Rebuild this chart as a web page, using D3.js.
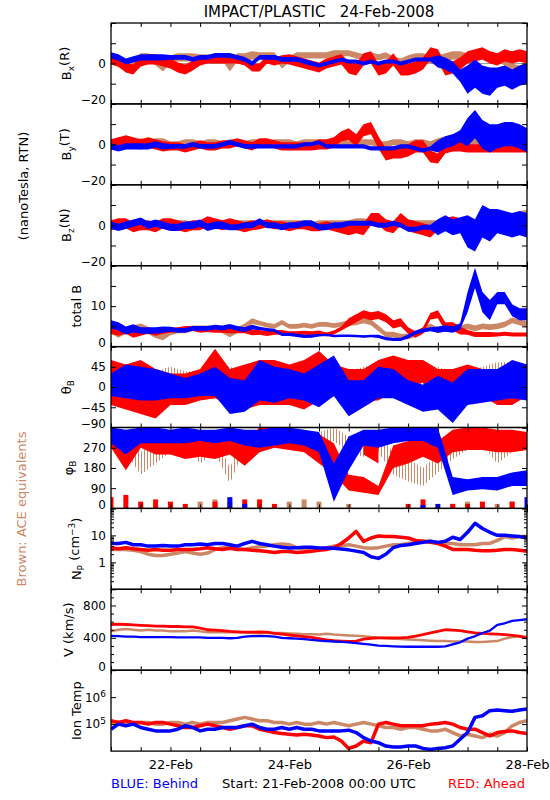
<!DOCTYPE html>
<html><head><meta charset="utf-8">
<script src="https://cdn.jsdelivr.net/npm/d3@7"></script>
<style>
html,body{margin:0;padding:0;background:#fff;}
svg{display:block;font-family:"DejaVu Sans",sans-serif;}
</style></head><body>
<svg id="c" width="550" height="800"></svg>
<script>
// ---------- time grids (hours since 21-Feb-2008 00:00 UTC) ----------
const hours3 = d3.range(0, 169, 3);   // 57 samples
const hours6 = d3.range(0, 169, 6);   // 29 samples
const xTickLabels = ["22-Feb", "24-Feb", "26-Feb", "28-Feb"];

// ---------- Bx (R) ----------
const bxBrown = [2,0,-2,0,3,3,1,-2,2,3,3,3,3,3,3,3,-2,3,3,4,4,4,4, -1,2,4,4,4,4,4,5,5,5,4,3,4,3,4,2,1,2,3,3,2,2,3,4,4,3,4,4,4,3,1,-2,-3,-2];
const bxRed   = [2,1,-2,-3,1,2,2,1,0,-2,-3,-1,1,2,2,2,2,2,1,-2,-2,2,1, 2,2,1,0,-1,-2,0,1,2,-2,-3,2,3,-3,-2,2,-3,-3,-2,0,5,4,-3,-2,0,3,4,5,3,2,4,3,4,3];
const bxBlue  = [4,3,1,2,3,3,3,3,3,3,3,2,3,3,4,4,4,3,2,0,3,3,3, 2,2,2,1,0,-1,0,1,2,1,1,0,1,0,1,1,0,1,2,2,2,1,0,-2,-6,-8,-5,-8,-9,-7,-6,-8,-6,-5];
const bxBrownAmp = [2,2,2,1.5,2,1.5,1.5,1.5,1.5,1.5,2,2,2,2,2.5];
const bxRedAmp   = [2.5,2.5,2.5,2,2,2,2.5,2.5,3,3,3,3,3,3,3];
const bxBlueAmp  = [1.5,1.5,1.2,1.2,1.2,1.2,1.2,1,1,1,1,3,7,5,5];

// ---------- By (T) ----------
const byBrown = [-1,0,1,0,1,0,1,1,0,0,1,1,0,1,1,0,1,1,0,1,1,0,1, 1,1,0,1,1,1,0,1,1,0,1,1,1,0,0,1,1,0,1,1,0,1,2,3,3,2,1,1,0,0,1,1,0,0];
const byRed   = [0,1,2,1,0,1,0,-1,-1,-1,-2,-1,0,-1,-1,0,0,1,0,-1,1,1,0, -1,-1,-1,-1,-1,0,0,1,4,5,2,7,8,1,-5,-4,-4,-3,-1,-1,-6,-7,-2,-1,-1,-2,-2,-2,-2,-2,-2,-2,-2,-2];
const byBlue  = [-1,-2,-1,-1,-1,-1,0,-1,-1,-1,-1,0,-1,-1,-1,0,1,0,-1,-1,-1,-1,-1, -1,-1,-1,0,0,1,-1,-1,-1,-1,-1,-1,-2,-2,-2,-2,-1,-1,-2,-3,-2,-1,1,2,4,6,10,5,3,4,5,5,4,2];
const byBrownAmp = [2,2,1.5,1.5,1.5,1.5,1.5,1.5,1.5,1.5,1.5,2,2,2,2];
const byRedAmp   = [2.5,2.5,2,2,2,2,2,2.5,3,3,3,2.5,2,2,2];
const byBlueAmp  = [1.5,1.5,1.2,1.2,1.2,1,1,1,1,1,1,3,7,6,6];

// ---------- Bz (N) ----------
const bzBrown = [0,1,1,0,1,0,1,1,0,1,1,0,1,0,1,1,0,1,1,1,0,1,1, 1,1,1,1,0,1,1,1,1,1,2,2,1,1,1,0,1,1,1,1,1,1,1,1,1,1,1,1,1,1,2,3,5,5];
const bzRed   = [0,1,1,-1,0,0,-1,1,1,0,-1,0,0,2,1,0,1,0,-1,0,0,1,0, 0,-1,0,0,-1,-1,0,-1,-2,-2,-1,-2,3,3,0,-1,3,0,-1,-2,-3,0,1,2,1,0,0,-1,0,0,0,1,0,0];
const bzBlue  = [0,-1,0,1,2,0,1,0,-1,-1,0,0,1,-1,0,0,-1,-1,0,0,2,0,0, -1,0,0,1,1,-1,-1,0,0,1,1,1,1,0,0,1,0,-2,-2,-1,-1,-1,1,-1,0,-3,-5,2,0,2,1,0,1,0];
const bzBrownAmp = [1.5,1.5,1.5,1.5,1.5,1.5,1.5,1.5,1.5,1.5,1.5,1.5,1.5,2,2.5];
const bzRedAmp   = [2.5,2.5,2.5,2.5,2.5,2,2,2,3,3,3,2.5,2,2,2];
const bzBlueAmp  = [1.8,1.8,1.8,1.8,1.5,1.5,1.5,1.5,1.2,1.2,1.2,4,8,6,6];

// ---------- total B ----------
const btBrown = [4,3,4,4.5,4.8,4,3,2.5,3.5,4,4,4.5,4.5,4.5,4.5,4,3,4,5,6.3,5.8,5.3,5, 6,5,5,5.3,5,5.5,5.5,5.2,5.5,5.8,6,6.5,6,4.5,3,3,2.5,2.5,3,4,5,4,4.5,5,4.5,5,4.5,5,4.8,5,5.5,6.5,6,5.5];
const btRed   = [4,3.5,4,3,3.5,4,3.5,4,4,4.2,4.5,4.5,4,4.2,4,4,4,4,4,3.5,3.5,3.2,3.5, 3.5,3.3,3.3,3.4,3.3,3.5,3,3.5,4.5,6,7,8,7.5,7.8,7,5.5,6,4,3,4,7.5,8,5,5,4,3.5,3,3,3,3,3.2,3,3,3];
const btBlue  = [5.5,5,4,4.5,4,4,4,4.2,4.3,4,4,4.5,4.5,4.5,4.8,4.6,5,4.5,4.2,4.8,4.5,4.2,4, 3,3,2.8,2.5,2.6,2.8,2.9,2.6,2.7,2.7,2.6,2.5,2.6,2.5,2,1.8,1.8,2.5,3.5,4,4.3,4.2,4.5,4.2,5,11,17,11,9,12,12,9,8,8];
const btBrownAmp = [0.8,0.9,0.7,0.7,0.7,0.6,0.6,0.6,0.7,0.7,0.7,0.7,0.7,0.7,0.8];
const btRedAmp   = [0.8,0.8,0.6,0.6,0.7,0.6,0.5,0.5,1,1,0.8,1,0.6,0.5,0.5];
const btBlueAmp  = [1,0.8,0.6,0.6,0.6,0.4,0.4,0.3,0.3,0.4,0.5,0.8,2.5,1.5,1.5];

// ---------- theta_B (6-hour ranges) ----------
const thBrownLo = [-20,-30,-20,-30,-20,-20,-30,-20,-20,-30,-20,-20,-30,-20,-30,-20,-30,-20,-20,-20,-30,-20,-20,-30,-20,-20,-20,-20,-20];
const thBrownHi = [50,40,40,35,45,35,35,45,45,35,45,35,45,35,35,35,35,45,50,55,35,35,45,35,35,45,55,55,45];
const thRedLo   = [-40,-50,-60,-70,-40,-40,-30,-25,-40,-50,-40,-40,-40,-50,-30,-20,-40,-30,-30,-10,0,10,-30,-40,-30,-20,-40,-40,-20];
const thRedHi   = [60,50,60,40,30,30,40,85,40,50,60,60,50,60,80,50,40,40,60,70,60,60,40,40,50,40,40,40,40];
const thBlueLo  = [-20,-25,-30,-30,-25,-25,-20,-20,-60,-55,-30,-35,-25,-30,-45,-20,-65,-45,-25,-25,-40,-55,-50,-80,-40,-35,-30,-25,-30];
const thBlueHi  = [30,50,45,40,30,20,30,45,20,15,60,45,40,30,50,70,15,15,45,40,15,5,25,10,40,40,40,60,50];

// ---------- phi_B (6-hour ranges) ----------
const phBrownLo = [270,250,150,200,250,280,200,250,110,270,280,280,300,290,280,300,250,230,250,150,120,100,160,220,260,280,200,250,260];
const phBrownHi = [340,330,250,300,330,340,280,330,180,340,350,350,360,350,340,360,320,300,330,250,220,180,240,300,340,340,300,330,340];
const phRedLo   = [270,170,270,240,240,220,230,220,240,190,250,270,260,250,200,150,80,70,60,180,200,230,200,250,260,260,250,250,260];
const phRedHi   = [340,300,350,350,340,340,320,300,330,300,360,360,340,330,330,290,150,140,100,280,300,320,300,350,360,360,350,350,340];
const phRedAltLo = [null,null,null,null,null,null,null,null,null,null,null,null,null,null,null,null,null,240,200,null,null,null,null,null,null,null,null,null,null];
const phRedAltHi = [null,null,null,null,null,null,null,null,null,null,null,null,null,null,null,null,null,330,330,null,null,null,null,null,null,null,null,null,null];
const phBlueLo  = [290,240,290,290,290,290,300,290,300,280,270,280,290,280,250,30,170,280,270,290,300,300,270,60,80,85,80,100,100];
const phBlueHi  = [360,350,360,360,350,360,350,350,360,350,350,360,360,350,340,200,320,350,350,360,360,360,360,140,130,140,140,160,170];
const phBrownLow = [0,0,0,0,20,0,30,40,30,0,0,0,30,40,30,0,20,0,0,0,0,0,0,20,30,0,20,30,0];
const phRedLow   = [50,60,30,40,30,20,0,30,0,40,40,20,0,0,0,0,0,0,0,0,20,40,0,20,20,30,0,30,0];
const phBlueLow  = [0,0,0,0,0,0,0,0,50,20,0,0,0,0,0,0,0,0,0,0,0,15,20,0,0,0,0,0,50];

// ---------- Np (cm^-3) ----------
const npBrown = [3,3,3,2.8,2.5,2,1.8,1.8,2,2.2,2.5,2.2,2,2.2,3,3.5,3.5,3.2,3,3.5,3.8,4,4.5, 4.8,4.5,3.5,3,2.8,3,3.5,4,4.2,4.5,4,3.5,3.3,3.5,4,4.5,4.5,5,5.5,6,6,5.5,5,5,4.5,4.5,4.5,5,5,6.5,9,8,9,9];
const npRed   = [3.5,3.2,3.5,3.2,3,2.8,3,2.8,2.8,3,3,3,3.2,3.5,3.2,3,3.3,3,3,2.8,2.7,2.5,2.3, 2.5,2.5,2.3,2.4,2.6,2.8,3,3.5,5,8,14,6,8,9.5,9,9,8.5,8,6.5,6,5.5,5,4,3,3,3,2.8,2.7,2.7,2.8,3,3,2.8,2.6];
const npBlue  = [5,5,5.5,4.5,4.5,4,4,4.2,4,4,4.5,4.5,4.8,4.5,5,5,4.5,4,5,6,5,4.5,4, 3.6,3.4,3.5,3.6,3.6,3.4,3.4,3.3,3.1,2.9,2.6,2.3,1.6,1.4,2,3.5,4.2,4.5,5,5.5,6,5.5,6,8.5,7,13,28,18,13,10,10,9.5,9,8];

// ---------- V (km/s) ----------
const vBrown = [480,500,510,500,490,500,490,490,480,480,480,490,480,470,470,470,470,470,465,460,455,460,460, 460,455,450,445,445,440,450,440,435,430,425,420,410,400,395,390,385,380,375,370,365,360,360,355,355,355,350,350,355,360,390,410,420,415];
const vRed   = [565,570,565,560,555,550,545,545,540,540,535,535,520,500,495,490,480,475,470,470,475,470,455, 445,435,425,415,405,390,375,365,360,355,360,385,395,400,400,400,400,405,420,440,460,480,500,495,490,475,460,455,450,445,440,430,420,395];
const vBlue  = [425,420,415,415,410,410,410,410,410,405,405,405,405,400,400,400,395,400,415,420,420,420,415, 400,395,390,385,375,365,360,355,350,345,335,325,315,305,300,295,292,290,290,290,290,290,295,320,345,390,420,460,490,560,580,610,620,630];

// ---------- Ion Temp (K) ----------
const tiBrown = [115000,115000,115000,100000,115000,115000,100000,100000,115000,115000,100000,115000,100000,115000,115000,115000,133000,154000,178000,154000,133000,133000,115000, 115000,100000,115000,100000,100000,115000,100000,115000,100000,86600,100000,115000,100000,86600,75000,75000,65000,75000,75000,65000,56200,56200,65000,48700,36500,42200,36500,31600,42200,36500,48700,86600,115000,133000];
const tiRed   = [133000,115000,133000,115000,115000,100000,115000,115000,100000,86600,75000,75000,86600,100000,86600,75000,65000,75000,86600,86600,65000,56200,48700, 44700,42200,39800,42200,39800,36500,31600,33500,23700,12600,15400,23700,20500,100000,115000,100000,86600,86600,86600,86600,100000,106000,115000,100000,75000,65000,65000,48700,36500,48700,53000,56200,48700,44700];
const tiBlue  = [65000,100000,86600,100000,75000,65000,56200,56200,56200,65000,86600,75000,56200,65000,65000,75000,75000,75000,86600,100000,75000,65000,65000, 75000,65000,75000,65000,65000,56200,56200,56200,56200,59600,48700,31600,23700,20500,15400,14100,14100,15400,15400,12600,11500,12600,13300,15400,27400,48700,178000,205000,316000,335000,316000,299000,335000,365000];

// ---------- layout & style ----------
const BROWN = "#cc8866", RED = "#ff0000", BLUE = "#0000ff";
const X0 = 111, X1 = 527, TOP = 23, PH = 80.9;
const FONT = "DejaVu Sans, sans-serif";
const t0 = Date.UTC(2008, 1, 21);
const T = h => new Date(t0 + h * 3600000);
const x = d3.scaleUtc().domain([T(0), T(168)]).range([X0, X1]);
const dates12 = d3.range(0, 169, 12).map(T);

const svg = d3.select("#c");
svg.append("rect").attr("width", 550).attr("height", 800).attr("fill", "#fff");

// sparse streak texture for the (dotted) ACE brown points in the angle panels
const defs = svg.append("defs");
const pat = defs.append("pattern").attr("id", "stBrown").attr("patternUnits", "userSpaceOnUse")
  .attr("width", 3).attr("height", 6);
pat.append("rect").attr("width", 1).attr("height", 6).attr("fill", BROWN);

svg.append("text").attr("x", 319).attr("y", 17).attr("text-anchor", "middle")
  .attr("font-size", 15).style("white-space", "pre").text("IMPACT/PLASTIC   24-Feb-2008");

function makePanel(i) {
  const g = svg.append("g").attr("transform", `translate(0,${TOP + i * PH})`);
  g.append("clipPath").attr("id", "clip" + i).append("rect")
    .attr("x", X0).attr("y", 0).attr("width", X1 - X0).attr("height", PH);
  const plot = g.append("g").attr("clip-path", `url(#clip${i})`);
  return { g, plot };
}

function axes(g, y, majors, labels, minors, fmt, title) {
  const left = g.append("g").attr("transform", `translate(${X0},0)`)
    .call(d3.axisLeft(y).tickValues(majors).tickSize(-5).tickPadding(5)
      .tickFormat(d => labels.includes(d) ? fmt(d) : ""));
  left.attr("font-size", 12).attr("font-family", FONT);
  left.select(".domain").remove();
  const bottom = y.range()[0];
  left.selectAll(".tick").filter(d => Math.abs(y(d) - bottom) < 1).select("text").attr("y", -4);
  if (minors.length) {
    const lm = g.append("g").attr("transform", `translate(${X0},0)`)
      .call(d3.axisLeft(y).tickValues(minors).tickSize(-3).tickFormat(""));
    lm.select(".domain").remove();
    const rm = g.append("g").attr("transform", `translate(${X1},0)`)
      .call(d3.axisRight(y).tickValues(minors).tickSize(-3).tickFormat(""));
    rm.select(".domain").remove();
  }
  const right = g.append("g").attr("transform", `translate(${X1},0)`)
    .call(d3.axisRight(y).tickValues(majors).tickSize(-5).tickFormat(""));
  right.select(".domain").remove();
  const xb = g.append("g").attr("transform", `translate(0,${PH})`)
    .call(d3.axisBottom(x).tickValues(dates12).tickSize(-4).tickFormat(""));
  xb.select(".domain").remove();
  const xt = g.append("g")
    .call(d3.axisTop(x).tickValues(dates12).tickSize(-4).tickFormat(""));
  xt.select(".domain").remove();
  g.append("rect").attr("x", X0).attr("y", 0).attr("width", X1 - X0).attr("height", PH)
    .attr("fill", "none").attr("stroke", "#000").attr("stroke-width", 1.3);
  const bb = left.node().getBBox();
  const lx = X0 + bb.x - 10;
  const t = g.append("text").attr("transform", `translate(${lx},${PH / 2}) rotate(-90)`)
    .attr("text-anchor", "middle").attr("font-size", 13);
  title.forEach(p => {
    const s = t.append("tspan").text(p.t);
    if (p.sub) s.attr("dy", "0.35em").attr("font-size", 9);
    if (p.sup) s.attr("dy", "-0.5em").attr("font-size", 9);
    if (p.back) s.attr("dy", p.back);
  });
  return left;
}

const ampAt = (amp, h) => amp[Math.min(amp.length - 1, Math.floor(h / 12))];

function bandPanel(i, domain, majors, labels, minors, zero, series, title) {
  const { g, plot } = makePanel(i);
  const y = d3.scaleLinear().domain(domain).range([PH, 0]);
  if (zero) plot.append("line").attr("x1", X0).attr("x2", X1).attr("y1", y(0)).attr("y2", y(0))
    .attr("stroke", "#999").attr("stroke-width", 1);
  series.forEach(([vals, amp, col]) => {
    const pts = hours3.map((h, k) => ({ h, v: vals[k], a: ampAt(amp, h) }));
    plot.append("path").datum(pts).attr("fill", col)
      .attr("d", d3.area().x(d => x(T(d.h))).y0(d => y(d.v - d.a)).y1(d => y(d.v + d.a)));
    plot.append("path").datum(pts).attr("fill", "none").attr("stroke", col).attr("stroke-width", 1.5)
      .attr("d", d3.line().x(d => x(T(d.h))).y(d => y(d.v)));
  });
  axes(g, y, majors, labels, minors, d3.format("d"), title);
}

function rangePanel(i, domain, majors, labels, series, lows, title) {
  const { g, plot } = makePanel(i);
  const y = d3.scaleLinear().domain(domain).range([PH, 0]);
  series.forEach(([lo, hi, fill]) => {
    const pts = hours6.map((h, k) => ({ h, lo: lo[k], hi: hi[k] }));
    plot.append("path").datum(pts).attr("fill", fill)
      .attr("d", d3.area().defined(d => d.lo != null && d.hi != null)
        .x(d => x(T(d.h))).y0(d => y(d.lo)).y1(d => y(d.hi)));
  });
  (lows || []).forEach(([vals, col]) => {
    plot.selectAll(null).data(hours6.map((h, k) => ({ h, v: vals[k] })).filter(d => d.v > 0))
      .enter().append("rect").attr("fill", col)
      .attr("x", d => x(T(d.h)) - 2.5).attr("width", 5)
      .attr("y", d => y(d.v)).attr("height", d => y(0) - y(d.v));
  });
  axes(g, y, majors, labels, [], d3.format("d"), title);
}

function linePanel(i, y, series, majors, labels, minors, fmt, title, widths) {
  const { g, plot } = makePanel(i);
  series.forEach(([vals, col], k) => {
    plot.append("path").datum(hours3.map((h, j) => ({ h, v: vals[j] })))
      .attr("fill", "none").attr("stroke", col).attr("stroke-width", widths[k])
      .attr("stroke-linejoin", "round")
      .attr("d", d3.line().x(d => x(T(d.h))).y(d => y(d.v)));
  });
  return axes(g, y, majors, labels, minors, fmt, title);
}

bandPanel(0, [-20, 20], [-20, -10, 0, 10, 20], [0, -20], [], true,
  [[bxBrown, bxBrownAmp, BROWN], [bxRed, bxRedAmp, RED], [bxBlue, bxBlueAmp, BLUE]],
  [{ t: "B" }, { t: "x", sub: 1 }, { t: "(R)", back: "-0.35em" }]);
bandPanel(1, [-20, 20], [-20, -10, 0, 10, 20], [0, -20], [], true,
  [[byBrown, byBrownAmp, BROWN], [byRed, byRedAmp, RED], [byBlue, byBlueAmp, BLUE]],
  [{ t: "B" }, { t: "y", sub: 1 }, { t: "(T)", back: "-0.35em" }]);
bandPanel(2, [-20, 20], [-20, -10, 0, 10, 20], [0, -20], [], true,
  [[bzBrown, bzBrownAmp, BROWN], [bzRed, bzRedAmp, RED], [bzBlue, bzBlueAmp, BLUE]],
  [{ t: "B" }, { t: "z", sub: 1 }, { t: "(N)", back: "-0.35em" }]);
bandPanel(3, [0, 20], [0, 5, 10, 15, 20], [0, 10], [], false,
  [[btBrown, btBrownAmp, BROWN], [btRed, btRedAmp, RED], [btBlue, btBlueAmp, BLUE]],
  [{ t: "total B" }]);

rangePanel(4, [-90, 90], [-90, -45, 0, 45, 90], [45, 0, -45, -90],
  [[thBrownLo, thBrownHi, "url(#stBrown)"], [thRedLo, thRedHi, RED], [thBlueLo, thBlueHi, BLUE]], null,
  [{ t: "θ" }, { t: "B", sub: 1 }]);
rangePanel(5, [0, 360], [0, 90, 180, 270, 360], [270, 180, 90, 0],
  [[phBrownLo, phBrownHi, "url(#stBrown)"], [phRedLo, phRedHi, RED], [phRedAltLo, phRedAltHi, RED], [phBlueLo, phBlueHi, BLUE]],
  [[phBrownLow, BROWN], [phRedLow, RED], [phBlueLow, BLUE]],
  [{ t: "φ" }, { t: "B", sub: 1 }]);

const yN = d3.scaleLog().domain([0.1, 100]).range([PH, 0]);
const nMinor = [0.2,0.3,0.4,0.5,0.6,0.7,0.8,0.9,2,3,4,5,6,7,8,9,20,30,40,50,60,70,80,90];
linePanel(6, yN, [[npBrown, BROWN], [npRed, RED], [npBlue, BLUE]], [0.1, 1, 10, 100], [1, 10], nMinor,
  d3.format("d"),
  [{ t: "N" }, { t: "P", sub: 1 }, { t: " (cm", back: "-0.35em" }, { t: "−3", sup: 1 }, { t: ")", back: "0.5em" }],
  [3.5, 3.5, 3.5]);

const yV = d3.scaleLinear().domain([0, 1000]).range([PH, 0]);
linePanel(7, yV, [[vBrown, BROWN], [vRed, RED], [vBlue, BLUE]], [0, 400, 800], [0, 400, 800],
  [100, 200, 300, 500, 600, 700, 900], d3.format("d"), [{ t: "V (km/s)" }], [2.5, 2.8, 2.3]);

const yT = d3.scaleLog().domain([1e4, 1e7]).range([PH, 0]);
const tl = linePanel(8, yT, [[tiBrown, BROWN], [tiRed, RED], [tiBlue, BLUE]], [1e5, 1e6], [1e5, 1e6], [],
  d => "10", [{ t: "Ion Temp" }], [3.5, 3.5, 3.5]);
tl.selectAll(".tick text").each(function (d) {
  d3.select(this).append("tspan").attr("dy", "-0.55em").attr("font-size", 9).text(Math.round(Math.log10(d)));
});

const lastTop = TOP + 8 * PH;
const xl = svg.append("g").attr("transform", `translate(0,${lastTop + PH})`)
  .call(d3.axisBottom(x).tickValues([T(24), T(72), T(120), T(168)]).tickSize(0).tickPadding(9)
    .tickFormat((d, k) => xTickLabels[k]));
xl.attr("font-size", 13).attr("font-family", FONT);
xl.select(".domain").remove();

svg.append("text").attr("x", 111).attr("y", 788).attr("font-size", 13).attr("fill", BLUE).text("BLUE: Behind");
svg.append("text").attr("x", 319).attr("y", 788).attr("font-size", 13).attr("text-anchor", "middle").text("Start: 21-Feb-2008 00:00 UTC");
svg.append("text").attr("x", 525).attr("y", 788).attr("font-size", 13).attr("text-anchor", "end").attr("fill", RED).text("RED: Ahead");

svg.append("text").attr("transform", "translate(28,186) rotate(-90)").attr("text-anchor", "middle")
  .attr("font-size", 13).text("(nanoTesla, RTN)");
svg.append("text").attr("transform", "translate(26,509) rotate(-90)").attr("text-anchor", "middle")
  .attr("font-size", 13).attr("fill", BROWN).text("Brown: ACE equivalents");
</script>
</body></html>
